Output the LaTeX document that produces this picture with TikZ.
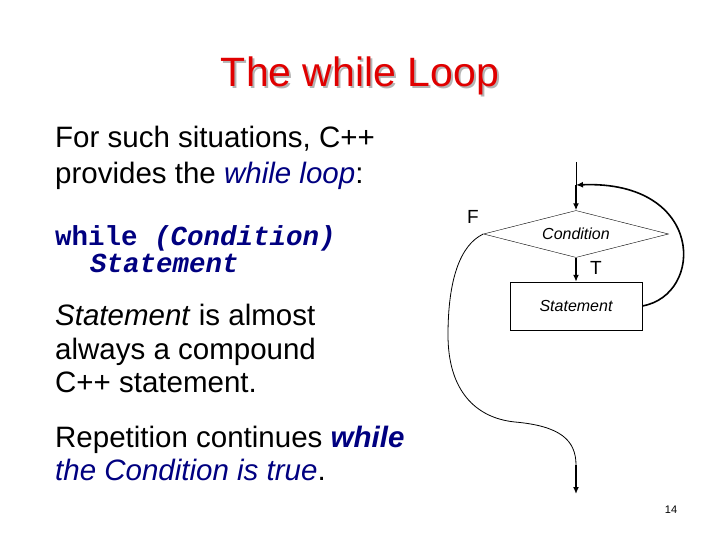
\documentclass[tikz,border=0pt]{standalone}
\usepackage{fontspec}
\setmainfont{Liberation Sans}
\setmonofont{Liberation Mono}
\usepackage{xcolor}
\usepackage{tikz}
\usetikzlibrary{shapes,arrows.meta,positioning,calc}

\definecolor{titlered}{RGB}{224,0,0}
\definecolor{shadowgray}{RGB}{180,180,180}
\definecolor{codeblue}{RGB}{0,0,128}

% text with a grey drop shadow behind it
\newcommand{\shadowtext}[1]{\makebox[0pt][l]{\hspace{2pt}\raisebox{-2pt}{\textcolor{shadowgray}{#1}}}\textcolor{titlered}{#1}}

\begin{document}
\begin{tikzpicture}[
    x=1pt, y=-1pt,
    >={Latex[length=7pt,width=6pt]},
    title/.style={font=\fontsize{41}{46}\selectfont, inner sep=0pt},
    body/.style={font=\fontsize{29.5}{34}\selectfont, anchor=base west, inner sep=0pt},
    code/.style={font=\ttfamily\bfseries\fontsize{27.5}{32}\selectfont, text=codeblue, anchor=base west, inner sep=0pt},
    cond/.style={diamond, draw, aspect=4, minimum width=185pt, minimum height=47pt, inner sep=0pt,
        font=\itshape\fontsize{16}{19}\selectfont},
    stmt/.style={rectangle, draw, minimum width=132pt, minimum height=48pt, inner sep=0pt,
        font=\itshape\fontsize{16}{19}\selectfont},
    tf/.style={font=\fontsize{19}{22}\selectfont, inner sep=0pt},
    flow/.style={->, line width=1.6pt},
    thin flow/.style={line width=0.8pt}
]
\useasboundingbox (0,0) rectangle (720,540);

% title
\node[title] (title) at (360,77) {\shadowtext{The while Loop}};

% left column text
\node[body] (intro1) at (55,148) {For such situations, C++};
\node[body] (intro2) at (55,184) {provides the \textcolor{codeblue}{\itshape while loop}:};
\node[code] (code1) at (55,245) {while \textit{(Condition)}};
\node[code] (code2) at (90,272) {\textit{Statement}};
\node[body] (note1) at (55,325) {\textit{Statement} is almost};
\node[body] (note2) at (55,359) {always a compound};
\node[body] (note3) at (55,392) {C++ statement.};
\node[body] (rep1) at (55,447) {Repetition continues \textcolor{codeblue}{\bfseries\itshape while}};
\node[body] (rep2) at (55,480) {\textcolor{codeblue}{\itshape the Condition is true}.};

% flowchart
\node[cond] (cond) at (576,234) {Condition};
\node[stmt] (stmt) at (576,306) {Statement};
\node[tf] (F) at (473,217) {F};
\node[tf] (T) at (596,268) {T};
\coordinate (top) at (576,162);
\coordinate (join) at (576,185);
\coordinate (drop) at (576,465);
\coordinate (exit) at (576,494);

\draw[thin flow] (top) -- (join);
\draw[flow] (join) -- (cond.north);
\draw[flow] (cond.south) -- (stmt.north);
\draw[flow] (stmt.east) .. controls (705,295) and (705,180) .. (join);
\draw[thin flow] (cond.west) .. controls (460,245) and (448,280) .. (448,335)
    .. controls (448,390) and (475,418) .. (515,422)
    .. controls (560,426) and (576,440) .. (drop);
\draw[flow] (drop) -- (exit);

% page number
\node[font=\fontsize{11}{13}\selectfont] (page) at (671,510) {14};
\end{tikzpicture}
\end{document}
